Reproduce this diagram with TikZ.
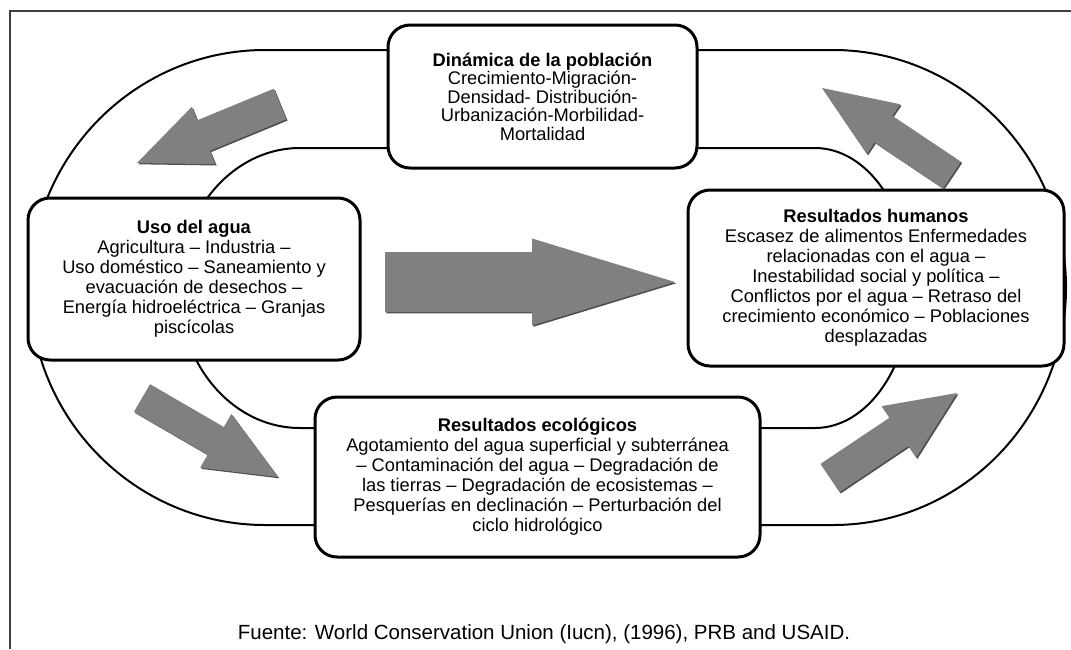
\documentclass[tikz,border=0pt]{standalone}
\usepackage{fontspec}
\setmainfont{Liberation Sans}
\usetikzlibrary{calc, shadows}
\definecolor{frameGray}{RGB}{64,64,64}
\definecolor{arrowGray}{RGB}{128,128,128}
\definecolor{arrowShade}{RGB}{78,78,78}

\begin{document}
\begin{tikzpicture}[
    x=1pt, y=-1pt,
    frame/.style={draw=frameGray, line width=2pt},
    ring/.style={draw=black, line width=2pt},
    stage/.style={draw=black, line width=3pt, rounded corners=22pt, fill=white, align=center, font=\fontsize{18.3}{20}\selectfont, inner sep=4pt},
    flow/.style={fill=arrowGray, drop shadow={shadow xshift=1.3pt, shadow yshift=-1.3pt, opacity=1, fill=arrowShade}},
    source/.style={font=\fontsize{20.5}{22}\selectfont}
]
    \useasboundingbox (0,0) rectangle (1071,649);
    \draw[frame] (10,649) -- (10,11) -- (1071,11);

    \draw[ring] (265,50) -- (833,50) arc[start angle=-90, end angle=90, x radius=233, y radius=237.5]
        -- (265,525) arc[start angle=90, end angle=270, x radius=235, y radius=237.5] -- cycle;
    \draw[ring] (300,148) -- (815,148) arc[start angle=-90, end angle=90, x radius=96, y radius=140]
        -- (300,428) arc[start angle=90, end angle=270, x radius=121, y radius=140] -- cycle;

    \node[stage, minimum width=309, minimum height=143, font=\fontsize{18.3}{18.5}\selectfont] (pop) at (542.5,96.5)
        {\textbf{Dinámica de la población}\\Crecimiento-Migración-\\Densidad- Distribución-\\Urbanización-Morbilidad-\\Mortalidad};
    \node[stage, minimum width=332, minimum height=162] (uso) at (194,279)
        {\textbf{Uso del agua}\\Agricultura – Industria –\\Uso doméstico – Saneamiento y\\evacuación de desechos –\\Energía hidroeléctrica – Granjas\\piscícolas};
    \node[stage, minimum width=376, minimum height=176] (hum) at (876,278)
        {\textbf{Resultados humanos}\\Escasez de alimentos Enfermedades\\relacionadas con el agua –\\Inestabilidad social y política –\\Conflictos por el agua – Retraso del\\crecimiento económico – Poblaciones\\desplazadas};
    \node[stage, minimum width=445, minimum height=160] (eco) at (537.5,477)
        {\textbf{Resultados ecológicos}\\Agotamiento del agua superficial y subterránea\\– Contaminación del agua – Degradación de\\las tierras – Degradación de ecosistemas –\\Pesquerías en declinación – Perturbación del\\ciclo hidrológico};

    \coordinate (a1t) at (280,104);
    \coordinate (a1h) at (137,163);
    \coordinate (a2t) at (952,175);
    \coordinate (a2h) at (822,88);
    \coordinate (a3t) at (142,398);
    \coordinate (a3h) at (278,477);
    \coordinate (a4t) at (830,478);
    \coordinate (a4h) at (957,393);
    \coordinate (a5t) at (385,282);
    \coordinate (a5h) at (675,282);
    \foreach \tl/\hd/\sw/\hw/\hl in {a1t/a1h/16.5pt/31pt/72pt, a2t/a2h/16pt/30pt/74pt, a3t/a3h/16pt/31pt/72pt, a4t/a4h/17pt/31pt/70pt, a5t/a5h/30pt/43.5pt/143pt} {
        \coordinate (hb) at ($(\hd)!\hl!(\tl)$);
        \fill[flow] ($(\tl)!\sw!90:(\hd)$) -- ($(hb)!\sw!90:(\hd)$) -- ($(hb)!\hw!90:(\hd)$) -- (\hd)
            -- ($(hb)!\hw!-90:(\hd)$) -- ($(hb)!\sw!-90:(\hd)$) -- ($(\tl)!\sw!-90:(\hd)$) -- cycle;
    }

    \node[source] (src) at (544,634) {Fuente: World Conservation Union (Iucn), (1996), PRB and USAID.};
\end{tikzpicture}
\end{document}
